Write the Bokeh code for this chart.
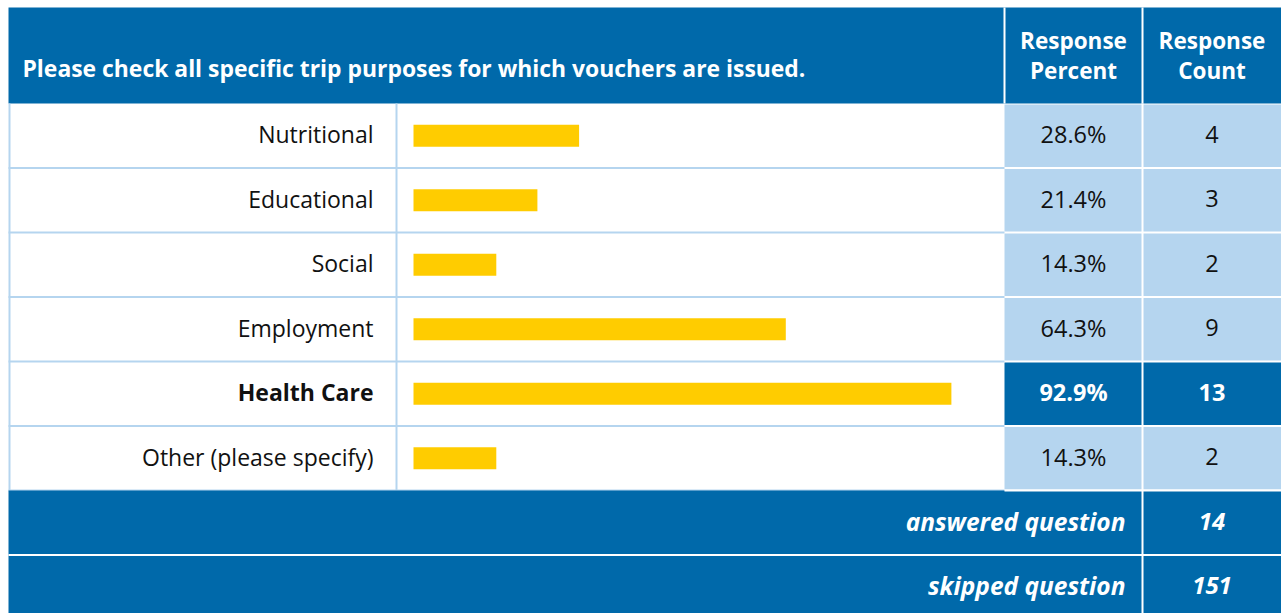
from bokeh.plotting import figure
from bokeh.models import Range1d, ColumnDataSource
from bokeh.core.properties import value
from bokeh.embed import file_html
from bokeh.resources import INLINE

# ---- data ----
question = "Please check all specific trip purposes for which vouchers are issued."
col_headers = ["Response\nPercent", "Response\nCount"]
categories = ["Nutritional", "Educational", "Social", "Employment", "Health Care", "Other (please specify)"]
percents = [28.6, 21.4, 14.3, 64.3, 92.9, 14.3]
counts = [4, 3, 2, 9, 13, 2]
answered = 14
skipped = 151

# ---- style / layout ----
DARK = "#0069AA"
LIGHT = "#B5D5EF"
YELLOW = "#FFCC00"
FONT = value("Open Sans")

W, H = 1281, 613
L, X_BAR, X_PCT, X_CNT, R = 8, 396, 1004, 1142, 1281
HEAD_TOP, HEAD_BOT = 7, 103
ROW_H = 64.5
BAR_X0 = 413
BAR_FULL = 579  # pixels for 100%
BAR_H = 22
TXT_DY = -1.5

p = figure(width=W, height=H, x_range=Range1d(0, W), y_range=Range1d(H, 0),
           output_backend="svg", toolbar_location=None, min_border=0,
           x_axis_type=None, y_axis_type=None)
p.grid.visible = False
p.outline_line_color = None
p.background_fill_color = "white"
p.border_fill_color = "white"

n = len(categories)
tops = [HEAD_BOT + i * ROW_H for i in range(n)]
bots = [t + ROW_H for t in tops]
mids = [t + ROW_H / 2 for t in tops]
tmids = [m + TXT_DY for m in mids]
hi = percents.index(max(percents))

# header
p.quad(left=L, right=R, top=HEAD_TOP, bottom=HEAD_BOT, fill_color=DARK, line_color=None)
p.segment(x0=[X_PCT, X_CNT], x1=[X_PCT, X_CNT], y0=[HEAD_TOP] * 2, y1=[HEAD_BOT] * 2,
          line_color="white", line_width=2)
p.text(x=[22], y=[68], text=[question], text_color="white", text_font=FONT,
       text_font_style="bold", text_font_size="22.9px", text_baseline="middle", text_align="left")
p.text(x=[(X_PCT + X_CNT) / 2, (X_CNT + R) / 2], y=[55, 55], text=col_headers,
       text_color="white", text_font=FONT, text_font_style="bold", text_font_size="22.5px",
       text_baseline="middle", text_align="center", text_line_height=0.95)

# value cells
cell_colors = [DARK if i == hi else LIGHT for i in range(n)]
p.quad(left=[X_PCT] * n, right=[R] * n, top=[t + 1 for t in tops], bottom=[b - 1 for b in bots],
       fill_color=cell_colors, line_color=None)
p.segment(x0=[X_CNT], x1=[X_CNT], y0=[HEAD_BOT], y1=[bots[-1]], line_color="white", line_width=2)

# grid lines in label/bar area
p.segment(x0=[L] * n, x1=[X_PCT] * n, y0=bots, y1=bots, line_color=LIGHT, line_width=2)
p.segment(x0=[L + 1, X_BAR], x1=[L + 1, X_BAR], y0=[HEAD_BOT] * 2, y1=[bots[-1]] * 2,
          line_color=LIGHT, line_width=2)

# bars
src = ColumnDataSource(dict(y=mids, right=[BAR_X0 + v / 100 * BAR_FULL for v in percents]))
p.hbar(y="y", left=BAR_X0, right="right", height=BAR_H, source=src, fill_color=YELLOW, line_color=None)

# labels
styles = ["bold" if i == hi else "normal" for i in range(n)]
txt_cols = ["white" if i == hi else "#111111" for i in range(n)]
p.text(x=[373] * n, y=tmids, text=categories, text_font=FONT, text_font_size="23px",
       text_font_style=styles, text_color="#111111", text_baseline="middle", text_align="right")
p.text(x=[(X_PCT + X_CNT) / 2] * n, y=tmids, text=[f"{v:.1f}%" for v in percents], text_font=FONT,
       text_font_size="23.5px", text_font_style=styles, text_color=txt_cols,
       text_baseline="middle", text_align="center")
p.text(x=[(X_CNT + R) / 2] * n, y=tmids, text=[str(c) for c in counts], text_font=FONT,
       text_font_size="23.5px", text_font_style=styles, text_color=txt_cols,
       text_baseline="middle", text_align="center")

# footer
f_top = bots[-1]
f_tops = [f_top, f_top + ROW_H]
f_bots = [f_top + ROW_H, f_top + 2 * ROW_H]
p.quad(left=[L] * 2, right=[R] * 2, top=f_tops, bottom=f_bots, fill_color=DARK, line_color=None)
p.segment(x0=[X_CNT, L, X_PCT], x1=[X_CNT, R, R], y0=[f_top, f_bots[0], f_top], y1=[H, f_bots[0], f_top],
          line_color="white", line_width=2)
fm = [(a + b) / 2 + TXT_DY for a, b in zip(f_tops, f_bots)]
p.text(x=[1125] * 2, y=fm, text=["answered question", "skipped question"], text_font=FONT,
       text_font_size="24.5px", text_font_style="bold italic", text_color="white",
       text_baseline="middle", text_align="right")
p.text(x=[(X_CNT + R) / 2] * 2, y=fm, text=[str(answered), str(skipped)], text_font=FONT,
       text_font_size="24px", text_font_style="bold italic", text_color="white",
       text_baseline="middle", text_align="center")

open("out.html", "w").write(file_html(p, INLINE))
